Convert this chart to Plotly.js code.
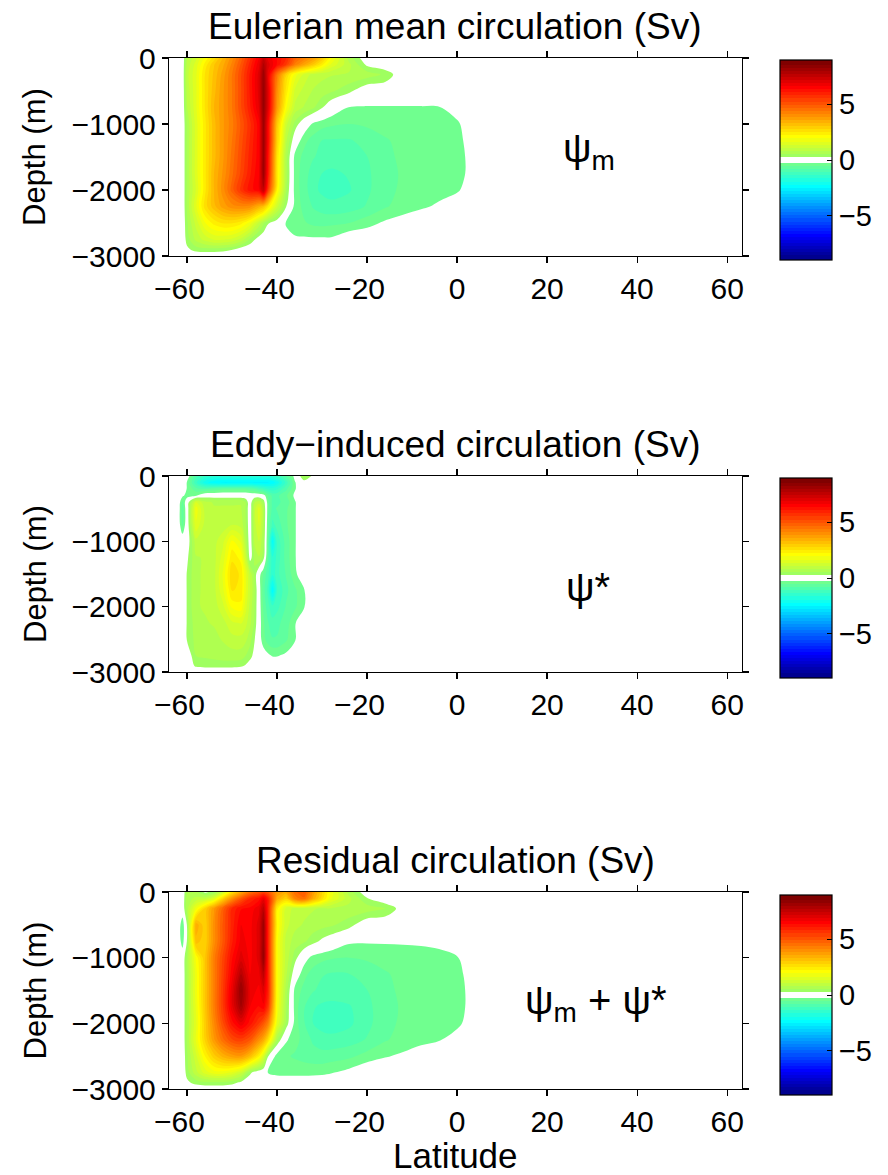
<!DOCTYPE html>
<html><head><meta charset="utf-8">
<script src="https://cdn.plot.ly/plotly-3.0.1.min.js"></script>
<style>html,body{margin:0;padding:0;background:#fff}#chart{width:888px;height:1175px}</style>
</head><body><div id="chart"></div>
<script>
// ---------- data ----------
// Grid for Eulerian mean and residual streamfunction
const latMean = [-62,-61,-60,-58,-56,-54,-52,-50,-48,-46,-44,-43,-42,-40,-38,-36,-34,-32,-30,-28,-24,-20,-16,-12,-8,-4,0,4,8];
const depthMean = [0,-100,-250,-500,-750,-1000,-1250,-1500,-1750,-2000,-2250,-2500,-2750,-2900,-3000];

// Eulerian mean circulation psi_m (Sv)
const psiMean = [
 [0,0,0.8,1.3,2.0,2.6,3.3,4.0,4.8,5.7,6.6,7.4,6.8,6.3,5.8,4.8,4.3,3.8,3.0,2.0,0.7,0,0,0,0,0,0,0,0],
 [0,0,0.9,1.5,2.3,3.0,3.5,4.2,5.0,5.9,6.8,7.8,7.0,6.3,5.5,4.3,3.6,3.0,2.3,1.6,0.9,0.2,0,0,0,0,0,0,0],
 [0,0,1.0,1.6,2.5,3.1,3.7,4.4,5.2,6.1,7.0,8.2,6.8,4.5,2.8,1.8,1.3,1.0,0.9,0.85,0.8,0.7,0.5,0,0,0,0,0,0],
 [0,0,0.9,1.6,2.5,3.2,3.8,4.4,5.2,6.1,7.0,8.3,7.0,4.0,2.4,1.3,1.0,0.8,0.7,0.6,0.35,0,0,0,0,0,0,0,0],
 [0,0,0.8,1.6,2.5,3.3,3.8,4.4,5.2,6.0,6.9,8.3,7.0,3.8,2.0,1.0,0.8,0.6,0.3,0,-0.29,-0.3,-0.3,-0.3,-0.3,-0.29,-0.11,0,0],
 [0,0,0.6,1.5,2.4,3.2,3.8,4.3,5.0,5.7,6.5,8.2,6.5,3.0,1.2,0.45,0.0,-0.33,-0.44,-0.5,-0.55,-0.5,-0.44,-0.41,-0.41,-0.39,-0.33,0,0],
 [0,0,0.6,1.5,2.4,3.2,3.8,4.4,5.1,5.8,6.5,8.2,6.5,2.8,0.9,0.0,-0.47,-0.66,-0.83,-0.85,-0.85,-0.74,-0.58,-0.47,-0.44,-0.41,-0.39,-0.05,0],
 [0,0,0.6,1.5,2.4,3.2,3.8,4.5,5.2,5.9,6.5,8.2,6.3,2.5,0.7,-0.39,-0.63,-0.8,-0.91,-0.96,-0.94,-0.83,-0.61,-0.5,-0.47,-0.44,-0.41,-0.11,0],
 [0,0,0.6,1.5,2.4,3.3,3.9,4.6,5.3,6.0,6.6,8.2,6.2,2.4,0.7,-0.41,-0.69,-0.96,-1.1,-1.16,-1.07,-0.88,-0.63,-0.52,-0.47,-0.44,-0.41,-0.11,0],
 [0,0,0.6,1.4,2.4,3.3,4.0,4.8,5.6,6.2,6.5,7.6,5.5,2.2,0.6,-0.41,-0.69,-1.02,-1.16,-1.21,-1.13,-0.88,-0.63,-0.5,-0.44,-0.39,-0.33,0,0],
 [0,0,0.6,1.6,2.6,3.2,3.7,4.0,4.1,4.0,3.4,3.1,2.4,1.2,0.3,-0.39,-0.63,-0.85,-0.96,-1.02,-0.96,-0.8,-0.58,-0.44,-0.33,-0.22,0,0,0],
 [0,0,0.5,1.2,1.9,2.3,2.5,2.5,2.3,1.8,1.0,0.6,0.3,0.05,-0.3,-0.44,-0.52,-0.61,-0.63,-0.61,-0.55,-0.39,-0.22,-0.11,0,0,0,0,0],
 [0,0,0.4,0.9,1.2,1.4,1.4,1.3,1.0,0.5,0.1,0,0,0,-0.17,-0.22,-0.22,-0.22,-0.22,-0.22,0,0,0,0,0,0,0,0,0],
 [0,0,0.2,0.4,0.45,0.45,0.4,0.3,0.1,0,0,0,0,0,0,0,0,0,0,0,0,0,0,0,0,0,0,0,0],
 [0,0,0,0,0,0,0,0,0,0,0,0,0,0,0,0,0,0,0,0,0,0,0,0,0,0,0,0,0]
];

// Grid for eddy-induced streamfunction
const latEddy = [-62,-61,-60,-58,-56,-54,-52,-50,-48,-47,-46,-45,-44,-43,-42,-41,-40,-38,-36,-34,-32,-30];
const depthEddy = [0,-100,-200,-300,-400,-500,-750,-1000,-1250,-1500,-1750,-2000,-2250,-2500,-2750,-2900,-3000];

// Eddy-induced circulation psi* (Sv)
const psiEddy = [
 [0,0,0,-1.0,-1.4,-1.6,-1.6,-1.6,-1.6,-1.6,-1.6,-1.6,-1.6,-1.6,-1.6,-1.5,-1.3,-0.8,-0.15,0.6,0.2,0],
 [0,0,-0.3,-1.3,-2.1,-2.4,-2.5,-2.5,-2.5,-2.5,-2.5,-2.5,-2.5,-2.5,-2.5,-2.4,-2.1,-1.3,-0.3,0.1,0,0],
 [0,0,-0.3,-0.7,-0.8,-0.7,-0.6,-0.6,-0.6,-0.6,-0.7,-0.8,-1.0,-1.2,-1.4,-1.5,-1.4,-0.9,-0.3,0,0,0],
 [0,-0.2,-0.4,-0.3,0,0,0,0,0,0,0,0,0,-0.1,-0.6,-0.9,-0.9,-0.6,-0.2,0,0,0],
 [0,-0.6,0,1.4,0.9,0.8,0.8,0.8,0.8,0.55,0.0,0.8,1.0,0.5,-0.5,-0.9,-0.9,-0.7,-0.3,0,0,0],
 [0,-0.7,0,1.8,1.0,0.85,0.85,0.85,0.85,0.55,0.0,1.0,1.5,0.7,-0.5,-0.9,-0.8,-0.6,-0.3,0,0,0],
 [0,-0.6,0,1.6,1.0,0.9,0.95,1.1,1.0,0.6,0.0,1.0,1.4,0.7,-0.6,-1.2,-1.0,-0.6,-0.3,0,0,0],
 [0,0,0,1.0,0.9,1.0,1.3,2.0,1.6,0.8,0.0,0.9,1.1,0.6,-0.7,-2.3,-1.3,-0.7,-0.3,0,0,0],
 [0,0,0.2,0.8,0.85,1.0,1.5,2.4,2.1,1.2,0.1,0.6,0.8,0.4,-0.8,-1.6,-1.3,-0.7,-0.3,0,0,0],
 [0,0,0.3,0.8,0.85,1.0,1.7,2.7,2.4,1.7,1.0,0.5,-0.1,-0.6,-1.0,-1.6,-1.2,-0.8,-0.35,0,0,0],
 [0,0,0.3,0.8,0.85,1.0,1.6,2.5,2.4,1.7,1.1,0.6,-0.1,-0.7,-1.2,-2.4,-1.4,-0.9,-0.6,-0.3,0,0],
 [0,0,0.3,0.8,0.85,0.95,1.3,2.0,2.1,1.5,1.0,0.55,-0.1,-0.6,-1.0,-1.3,-1.2,-0.8,-0.6,-0.3,0,0],
 [0,0,0.3,0.7,0.8,0.85,1.0,1.3,1.4,1.2,0.9,0.5,-0.1,-0.5,-0.8,-1.0,-0.9,-0.7,-0.3,0,0,0],
 [0,0,0.3,0.65,0.7,0.75,0.85,1.0,1.0,0.9,0.65,0.3,-0.1,-0.45,-0.7,-0.8,-0.8,-0.6,-0.3,0,0,0],
 [0,0,0,0.55,0.6,0.65,0.7,0.7,0.7,0.55,0.4,0.15,0,-0.1,-0.2,-0.3,-0.3,-0.2,-0.1,0,0,0],
 [0,0,0,0.35,0.4,0.4,0.4,0.4,0.35,0.25,0.1,0,0,0,0,0,0,0,0,0,0,0],
 [0,0,0,0,0,0,0,0,0,0,0,0,0,0,0,0,0,0,0,0,0,0]
];

// Residual circulation psi_m + psi* (Sv), on the mean grid
const psiResidual = [
 [0,0,0.6,0.6,0.2,0.4,1.2,2.5,3.5,4.5,5.0,5.3,5.0,3.8,3.5,4.6,5.0,3.8,2.8,1.8,0.7,0,0,0,0,0,0,0,0],
 [0,0,0.7,0.9,1.0,1.5,2.8,4.0,5.0,5.8,6.2,6.8,6.0,3.5,2.8,4.2,4.6,3.5,2.6,1.7,0.9,0.3,0,0,0,0,0,0,0],
 [0,0,0.7,1.8,2.8,3.8,4.8,5.8,6.3,6.4,6.8,7.6,6.0,2.3,1.3,1.0,0.9,0.85,0.8,0.8,0.75,0.7,0.55,0.1,0,0,0,0,0],
 [0,-0.5,0.3,3.5,2.8,4.0,5.0,5.9,6.6,6.5,7.0,8.2,6.0,2.2,1.2,0.9,0.8,0.7,0.65,0.6,0.4,0,0,0,0,0,0,0,0],
 [0,-0.45,0.3,3.2,2.8,4.0,5.0,6.0,6.7,6.5,7.0,8.2,6.0,2.0,1.0,0.7,0.6,0.4,0.2,0.05,-0.22,-0.24,-0.24,-0.24,-0.22,-0.17,0,0,0],
 [0,0,0.6,2.0,3.0,4.3,5.3,6.3,7.0,6.5,7.0,8.3,6.0,2.0,1.0,0.4,-0.11,-0.39,-0.47,-0.52,-0.55,-0.5,-0.44,-0.41,-0.41,-0.39,-0.3,0,0],
 [0,0,0.6,1.8,3.0,4.3,5.4,6.5,7.7,6.6,6.8,7.6,6.0,2.0,0.9,0.0,-0.47,-0.66,-0.8,-0.85,-0.83,-0.74,-0.58,-0.47,-0.44,-0.41,-0.39,-0.05,0],
 [0,0,0.6,1.8,3.0,4.3,5.5,6.8,8.3,6.8,6.5,7.0,6.0,2.0,0.7,-0.39,-0.63,-0.8,-0.91,-0.96,-0.94,-0.83,-0.61,-0.5,-0.47,-0.44,-0.41,-0.11,0],
 [0,0,0.6,1.7,3.0,4.3,5.5,6.8,8.0,6.6,6.3,6.5,5.6,1.9,0.6,-0.41,-0.8,-1.07,-1.16,-1.18,-1.13,-0.91,-0.63,-0.52,-0.47,-0.44,-0.41,-0.11,0],
 [0,0,0.6,1.6,2.9,4.1,5.2,6.2,6.8,6.2,5.5,5.0,4.3,1.6,0.5,-0.41,-0.8,-1.1,-1.21,-1.24,-1.16,-0.91,-0.63,-0.5,-0.44,-0.41,-0.36,-0.05,0],
 [0,0,0.6,1.7,2.8,3.8,4.6,5.2,5.4,5.0,4.0,3.5,2.6,0.6,-0.22,-0.47,-0.63,-0.88,-0.99,-1.02,-0.96,-0.8,-0.58,-0.44,-0.36,-0.3,-0.11,0,0],
 [0,0,0.5,1.3,2.2,2.9,3.4,3.7,3.8,3.2,2.2,1.4,0.3,-0.44,-0.52,-0.58,-0.63,-0.69,-0.72,-0.69,-0.61,-0.44,-0.3,-0.22,-0.11,0,0,0,0],
 [0,0,0.4,1.0,1.5,1.8,1.8,1.6,1.2,0.35,0.0,-0.11,-0.3,-0.39,-0.41,-0.41,-0.41,-0.39,-0.36,-0.3,-0.17,0,0,0,0,0,0,0,0],
 [0,0,0.2,0.4,0.5,0.5,0.5,0.4,0.2,0,0,0,0,0,0,0,0,0,0,0,0,0,0,0,0,0,0,0,0],
 [0,0,0,0,0,0,0,0,0,0,0,0,0,0,0,0,0,0,0,0,0,0,0,0,0,0,0,0,0]
];

const xTickVals = [-60,-40,-20,0,20,40,60];
const xTickText = ['\u221260\u2002','\u221240\u2002','\u221220\u2002','0','20','40','60'];
const yTickVals = [-3000,-2000,-1000,0];
const yTickText = ['\u22123000','\u22122000','\u22121000','0'];
const cbTickVals = [-5,0,5];
const cbTickText = ['\u22125','0','5'];
const panelTitles = ['Eulerian mean circulation (Sv)','Eddy\u2212induced circulation (Sv)','Residual circulation (Sv)'];
const panelLabels = ['\u03c8<sub>m</sub>','\u03c8*','\u03c8<sub>m</sub> + \u03c8*'];

// ---------- style: MATLAB-like jet(64) with the two middle entries white ----------
function jet64(i) { // i = 1..64
  const cl = v => Math.max(0, Math.min(1, v));
  const r = i <= 24 ? 0 : i <= 40 ? (i - 24) / 16 : i <= 56 ? 1 : (16 - (i - 56)) / 16;
  const g = i <= 8 ? 0 : i <= 24 ? (i - 8) / 16 : i <= 40 ? 1 : i <= 55 ? (16 - (i - 40)) / 16 : 0;
  const b = i <= 8 ? (i + 8) / 16 : i <= 24 ? 1 : i <= 39 ? (16 - (i - 24)) / 16 : 0;
  return 'rgb(' + [r, g, b].map(v => Math.round(cl(v) * 255)).join(',') + ')';
}
const CLIM = 8.8, NCOL = 64, STEP = 2 * CLIM / NCOL;
const colorscale = [[0, jet64(1)]];
for (let j = 0; j < NCOL; j++) {
  const col = (j === 31 || j === 32) ? 'rgb(255,255,255)' : jet64(j + 1);
  colorscale.push([(j + 1) / (NCOL + 1), col]);
}
colorscale.push([1, jet64(64)]);

// ---------- layout geometry (pixels) ----------
const W = 888, H = 1175;
const axLeft = 169, axRight = 742;
const plotTop = [58, 476, 892], plotBottom = [256, 672, 1089];
const cbCenter = [160, 578, 995];
const labelPos = [[589,151],[588,587],[596,1003]];
const FONT = 'Liberation Sans, Arial, Helvetica, sans-serif';

const fields = [
  {x: latMean, y: depthMean, z: psiMean},
  {x: latEddy, y: depthEddy, z: psiEddy},
  {x: latMean, y: depthMean, z: psiResidual}
];

const traces = [], layout = {
  width: W, height: H, margin: {l:0, r:0, t:0, b:0},
  paper_bgcolor: '#fff', plot_bgcolor: '#fff', showlegend: false,
  font: {family: FONT, color: '#000', size: 30},
  annotations: []
};

fields.forEach((f, i) => {
  const n = i === 0 ? '' : String(i + 1);
  traces.push({
    type: 'contour', x: f.x, y: f.y, z: f.z,
    xaxis: 'x' + n, yaxis: 'y' + n,
    colorscale: colorscale,
    contours: {start: -CLIM, end: CLIM, size: STEP, coloring: 'fill', showlines: false},
    line: {width: 0, smoothing: 1},
    hoverinfo: 'skip',
    colorbar: {
      thickness: 52, thicknessmode: 'pixels', len: 200, lenmode: 'pixels',
      x: 780 / W, xanchor: 'left', xpad: 0, y: 1 - cbCenter[i] / H, yanchor: 'middle', ypad: 0,
      outlinewidth: 1.2, outlinecolor: '#000',
      tickmode: 'array', tickvals: cbTickVals, ticktext: cbTickText,
      ticks: 'inside', ticklen: 5, tickcolor: '#000', tickfont: {size: 29, family: FONT, color: '#000'}
    }
  });
  const yd = [1 - plotBottom[i] / H, 1 - plotTop[i] / H];
  layout['xaxis' + n] = {
    domain: [axLeft / W, axRight / W], range: [-64, 63.3], anchor: 'y' + n,
    tickmode: 'array', tickvals: xTickVals, ticktext: xTickText,
    ticks: 'outside', ticklen: 6, tickwidth: 1.2, tickcolor: '#000',
    showline: true, linecolor: '#000', linewidth: 1.2, mirror: 'ticks',
    showgrid: false, zeroline: false, automargin: false,
    tickfont: {size: 30, family: FONT, color: '#000'}
  };
  layout['yaxis' + n] = {
    domain: yd, range: [-3000, 0], anchor: 'x' + n,
    tickmode: 'array', tickvals: yTickVals, ticktext: yTickText,
    ticks: 'outside', ticklen: 6, tickwidth: 1.2, tickcolor: '#000',
    showline: true, linecolor: '#000', linewidth: 1.2, mirror: 'ticks',
    showgrid: false, zeroline: false, automargin: false,
    tickfont: {size: 30, family: FONT, color: '#000'}
  };
  layout.annotations.push({
    text: panelTitles[i], xref: 'paper', yref: 'paper',
    x: (axLeft + axRight) / 2 / W, y: 1 - plotTop[i] / H, xanchor: 'center', yanchor: 'bottom',
    yshift: 9, showarrow: false, font: {size: 37, family: FONT, color: '#000'}
  });
  layout.annotations.push({
    text: panelLabels[i], xref: 'paper', yref: 'paper',
    x: labelPos[i][0] / W, y: 1 - labelPos[i][1] / H, xanchor: 'center', yanchor: 'middle',
    showarrow: false, font: {size: 40, family: FONT, color: '#000'}
  });
  layout.annotations.push({
    text: 'Depth (m)', xref: 'paper', yref: 'paper', textangle: -90,
    x: 35 / W, y: 1 - (plotTop[i] + plotBottom[i]) / 2 / H, xanchor: 'center', yanchor: 'middle',
    showarrow: false, font: {size: 31, family: FONT, color: '#000'}
  });
});
layout.annotations.push({
  text: 'Latitude', xref: 'paper', yref: 'paper',
  x: (axLeft + axRight) / 2 / W, y: 0, xanchor: 'center', yanchor: 'bottom', yshift: -2,
  showarrow: false, font: {size: 35, family: FONT, color: '#000'}
});

Plotly.newPlot('chart', traces, layout, {displayModeBar: false, staticPlot: true});
</script>
</body></html>
